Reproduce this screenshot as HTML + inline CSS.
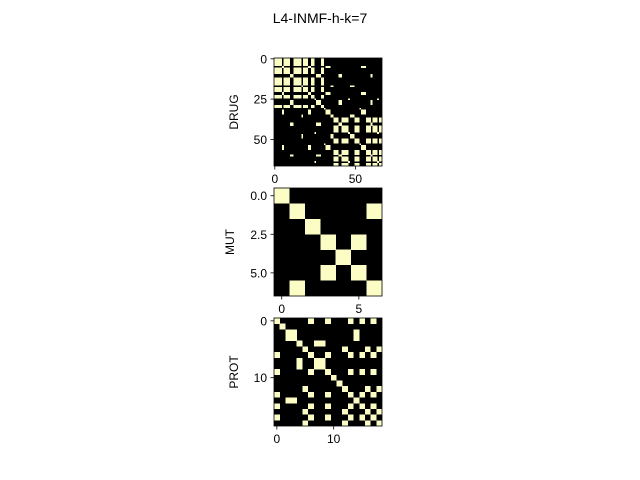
<!DOCTYPE html>
<html><head><meta charset="utf-8">
<style>
body{margin:0;background:#fff;}
svg{display:block;font-family:"Liberation Sans","DejaVu Sans",sans-serif;}
</style></head>
<body>
<svg id="fig" width="640" height="480" viewBox="0 0 640 480">
<rect width="640" height="480" fill="#fff"/>
<text x="320" y="23" font-size="14" text-anchor="middle">L4-INMF-h-k=7</text>
</svg>
<script>
// Cluster labels per item (connectivity: cell = 1 when labels match)
const drugLabels = ["A","A","A","A","A","C","A","A","A","A","D","D","A","A","A","A","A","E","A","A","A","C","C","A","A","F","D","D","D","A","A","G","C","C","C","E","E","B","B","B","D","D","B","B","B","B","F","E","E","E","B","B","B","G","C","C","C","B","B","B","D","B","B","B","F","B","B"];
const mutLabels = [0,1,2,3,4,3,1];
const protLabels = [0,1,2,2,3,4,0,3,3,0,5,6,4,0,2,0,4,0,4];
const drugTicksX = [0,50];
const drugTicksY = [0,25,50];
const mutTicksX = [0,5];
const mutTicksY = [0.0,2.5,5.0];
const mutTickText = ["0.0","2.5","5.0"];
const protTicksX = [0,10];
const protTicksY = [0,10];

const NS = "http://www.w3.org/2000/svg";
const svg = document.getElementById("fig");
const ON = "#fbfdc5", OFF = "#000000";

function mk(tag, attrs, parent){
  const e = document.createElementNS(NS, tag);
  for (const k in attrs) e.setAttribute(k, attrs[k]);
  parent.appendChild(e);
  return e;
}

function drawPanel(name, labels, x0, y0, size, tx, ty, tyText, ylabel, ylabelX){
  const g = mk("g", {}, svg);
  
  
  const n = labels.length;
  const c = size / n;
  const sx = v => x0 + (v + 0.5) * c;
  const sy = v => y0 + (v + 0.5) * c;
  const bg = mk("rect", {x:x0, y:y0, width:size, height:size, fill:OFF}, g);
  
  
  for (let i = 0; i < n; i++){
    for (let j = 0; j < n; j++){
      if (labels[i] === labels[j]){
        const r = mk("rect", {x:(sx(j)-c/2).toFixed(2), y:(sy(i)-c/2).toFixed(2), width:(c+0.1).toFixed(2), height:(c+0.1).toFixed(2), fill:ON, "shape-rendering":"crispEdges"}, g);
        
        
      }
    }
  }
  const fr = mk("rect", {x:x0, y:y0, width:size, height:size, fill:"none", stroke:"#000", "stroke-width":0.8}, g);
  
  
  tx.forEach(v => {
    const X = sx(v);
    const t = mk("line", {x1:X, x2:X, y1:y0+size, y2:y0+size+3.5, stroke:"#000", "stroke-width":0.8}, g);
    
    
    const l = mk("text", {x:X, y:y0+size+17, "font-size":12, "text-anchor":"middle"}, g);
    l.textContent = String(v);
    
    
  });
  ty.forEach((v, k) => {
    const Y = sy(v);
    const t = mk("line", {x1:x0-3.5, x2:x0, y1:Y, y2:Y, stroke:"#000", "stroke-width":0.8}, g);
    
    
    const l = mk("text", {x:x0-7, y:Y+4.5, "font-size":12, "text-anchor":"end"}, g);
    l.textContent = tyText ? tyText[k] : String(v);
    
    
  });
  const yl = mk("text", {x:ylabelX, y:y0+size/2, "font-size":12, "text-anchor":"middle", transform:`rotate(-90 ${ylabelX} ${y0+size/2})`}, g);
  yl.textContent = ylabel;
  
  
}

drawPanel("drug", drugLabels, 274, 58, 108, drugTicksX, drugTicksY, null, "DRUG", 238);
drawPanel("mut", mutLabels, 274, 188, 108, mutTicksX, mutTicksY, mutTickText, "MUT", 234);
drawPanel("prot", protLabels, 274, 318, 108, protTicksX, protTicksY, null, "PROT", 238);
</script>
</body></html>
